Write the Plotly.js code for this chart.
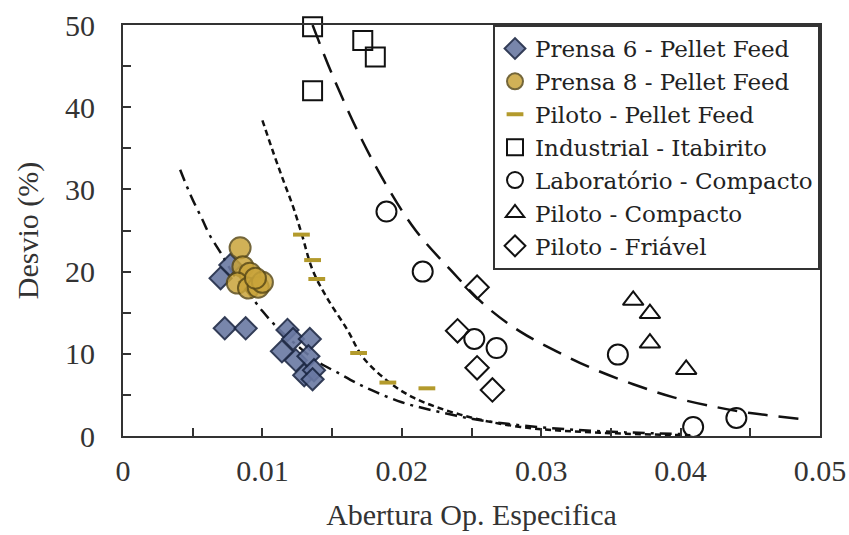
<!DOCTYPE html>
<html>
<head>
<meta charset="utf-8">
<script src="https://cdn.plot.ly/plotly-3.0.1.min.js"></script>
<style>html,body{margin:0;padding:0;background:#fff;}#chart{width:849px;height:535px;}</style>
</head>
<body>
<div id="chart"></div>
<script>
// ---- data ----
var prensa6X = [0.0070, 0.0077, 0.0073, 0.0088, 0.0118, 0.0122, 0.0114, 0.0124, 0.0134, 0.0133, 0.0130, 0.0137, 0.0136];
var prensa6Y = [19.2, 20.8, 13.1, 13.1, 12.9, 11.8, 10.3, 9.2, 11.8, 9.7, 7.4, 8.0, 6.9];

var prensa8X = [0.0084, 0.0086, 0.0091, 0.0082, 0.0090, 0.0097, 0.0100, 0.0095];
var prensa8Y = [22.9, 20.6, 19.8, 18.6, 18.0, 18.1, 18.7, 19.2];

var pilotoPFX = [0.0128, 0.0136, 0.0139, 0.0169, 0.0190, 0.0218];
var pilotoPFY = [24.5, 21.4, 19.1, 10.1, 6.5, 5.8];

var industrialX = [0.0136, 0.0136, 0.0172, 0.0181];
var industrialY = [49.8, 42.0, 48.1, 46.1];

var labX = [0.0189, 0.0215, 0.0252, 0.0268, 0.0355, 0.0409, 0.0440];
var labY = [27.3, 20.0, 11.8, 10.7, 9.9, 1.1, 2.2];

var pilotoCompX = [0.0366, 0.0378, 0.0378, 0.0404];
var pilotoCompY = [16.5, 14.9, 11.3, 8.1];

var pilotoFriX = [0.0254, 0.0240, 0.0254, 0.0265];
var pilotoFriY = [18.1, 12.8, 8.3, 5.6];

// trend curves, points
var trendLongX = [0.0136, 0.0150, 0.0170, 0.0189, 0.0210, 0.0235, 0.0261, 0.0285, 0.0311, 0.0337, 0.0366, 0.0395, 0.0426, 0.0450, 0.0490];
var trendLongY = [50.0, 44.0, 36.5, 30.5, 25.0, 20.2, 15.7, 12.7, 10.3, 8.2, 6.3, 4.7, 3.5, 2.8, 2.0];

var trendShortX = [0.0100, 0.0108, 0.0115, 0.0122, 0.0128, 0.0136, 0.0146, 0.0161, 0.0172, 0.0189, 0.0208, 0.0242, 0.0285, 0.0342, 0.0407];
var trendShortY = [38.4, 34.4, 31.1, 27.9, 24.7, 20.2, 16.9, 12.9, 9.6, 6.8, 4.7, 2.6, 1.1, 0.4, 0.1];

var trendDotX = [0.0041, 0.0049, 0.0057, 0.0062, 0.0070, 0.0080, 0.0090, 0.0100, 0.0110, 0.0125, 0.0140, 0.0154, 0.0168, 0.0182, 0.0200, 0.0220, 0.0250, 0.0280, 0.0320, 0.0360, 0.0400];
var trendDotY = [32.4, 29.1, 26.3, 24.5, 22.3, 19.5, 17.4, 15.2, 13.3, 11.0, 9.0, 7.7, 6.4, 5.3, 4.1, 3.2, 2.1, 1.4, 0.8, 0.45, 0.25];

var seriesNames = ["Prensa 6 - Pellet Feed", "Prensa 8 - Pellet Feed", "Piloto - Pellet Feed",
  "Industrial - Itabirito", "Laboratório - Compacto", "Piloto - Compacto", "Piloto - Friável"];

var xTitle = "Abertura Op. Especifica";
var yTitle = "Desvio (%)";

// ---- build ----
var FONT = "Liberation Serif, Times New Roman, serif";
var LFONT = "DejaVu Serif, Liberation Serif, serif";
var traces = [
  {x: trendLongX, y: trendLongY, mode: "lines", line: {color: "#111", width: 2.5, dash: "20px,11px", shape: "spline"}, showlegend: false, hoverinfo: "skip"},
  {x: trendShortX, y: trendShortY, mode: "lines", line: {color: "#111", width: 2.5, dash: "6px,4px", shape: "spline"}, showlegend: false, hoverinfo: "skip"},
  {x: trendDotX, y: trendDotY, mode: "lines", line: {color: "#111", width: 2.5, dash: "12px,6px,3px,6px", shape: "spline"}, showlegend: false, hoverinfo: "skip"},
  {x: prensa6X, y: prensa6Y, name: seriesNames[0], mode: "markers", type: "scatter",
   marker: {symbol: "diamond", size: 17, color: "#6a79a3", opacity: 0.9, line: {color: "#1c2845", width: 2}}},
  {x: prensa8X, y: prensa8Y, name: seriesNames[1], mode: "markers", type: "scatter",
   marker: {symbol: "circle", size: 21, color: "#c9a43a", opacity: 0.85, line: {color: "#5c4c18", width: 2}}},
  {x: pilotoPFX, y: pilotoPFY, name: seriesNames[2], mode: "markers", type: "scatter",
   marker: {symbol: "line-ew", size: 12, color: "#b39a2c", line: {color: "#b39a2c", width: 4}}},
  {x: industrialX, y: industrialY, name: seriesNames[3], mode: "markers", type: "scatter", cliponaxis: false,
   marker: {symbol: "square-open", size: 19, color: "#111", line: {color: "#111", width: 2}}},
  {x: labX, y: labY, name: seriesNames[4], mode: "markers", type: "scatter", cliponaxis: false,
   marker: {symbol: "circle-open", size: 20, color: "#111", line: {color: "#111", width: 2}}},
  {x: pilotoCompX, y: pilotoCompY, name: seriesNames[5], mode: "markers", type: "scatter",
   marker: {symbol: "triangle-up-open", size: 18, color: "#111", line: {color: "#111", width: 2}}},
  {x: pilotoFriX, y: pilotoFriY, name: seriesNames[6], mode: "markers", type: "scatter",
   marker: {symbol: "diamond-open", size: 18, color: "#111", line: {color: "#111", width: 2}}}
];

var layout = {
  width: 849, height: 535,
  margin: {l: 123, r: 29, t: 25, b: 99},
  paper_bgcolor: "#fff", plot_bgcolor: "#fff",
  font: {family: FONT, color: "#222", size: 30},
  showlegend: true,
  legend: {x: 1, xanchor: "right", y: 1, yanchor: "top", bgcolor: "#fff",
           bordercolor: "#333", borderwidth: 2, font: {family: LFONT, size: 23, color: "#222"},
           itemwidth: 30, tracegroupgap: 0},
  xaxis: {range: [0, 0.05], dtick: 0.01, tick0: 0, showgrid: false, zeroline: false,
          showline: true, linecolor: "#333", linewidth: 2, mirror: true,
          ticks: "inside", ticklen: 8, tickwidth: 2, tickcolor: "#333",
          minor: {dtick: 0.005, ticks: "inside", ticklen: 8, tickwidth: 2, tickcolor: "#333", showgrid: false},
          tickfont: {family: FONT, size: 30, color: "#333"}, ticklabelstandoff: 7,
          title: {text: xTitle, font: {family: FONT, size: 30, color: "#333"}, standoff: 18}},
  yaxis: {range: [0, 50], dtick: 10, tick0: 0, showgrid: false, zeroline: false,
          showline: true, linecolor: "#333", linewidth: 2, mirror: true,
          ticks: "inside", ticklen: 8, tickwidth: 2, tickcolor: "#333",
          minor: {dtick: 5, ticks: "inside", ticklen: 8, tickwidth: 2, tickcolor: "#333", showgrid: false},
          tickfont: {family: FONT, size: 30, color: "#333"}, ticklabelstandoff: 20,
          title: {text: yTitle, font: {family: FONT, size: 30, color: "#333"}, standoff: 18}}
};

Plotly.newPlot("chart", traces, layout, {displayModeBar: false, staticPlot: true});
</script>
</body>
</html>
